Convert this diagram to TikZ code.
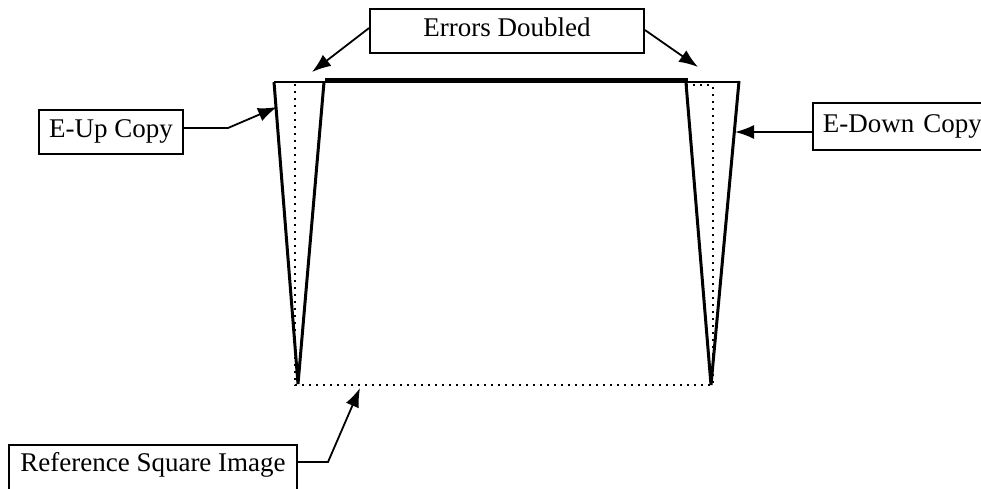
\documentclass[tikz,border=0pt]{standalone}
\usepackage{fontspec}
\setmainfont{Liberation Serif}
\usetikzlibrary{arrows.meta}
\begin{document}
\begin{tikzpicture}[x=1pt,y=-1pt,
  label box/.style={draw, line width=1.8pt, fill=white, inner sep=0pt,
    font=\fontsize{27}{31}\selectfont, text height=17pt, text depth=5pt},
  pointer/.style={line width=1.8pt, -{Latex[length=19pt,width=14pt]}},
  edge/.style={line width=3pt, line join=miter},
  refline/.style={line width=2pt, dash pattern=on 2pt off 5pt}]
\useasboundingbox (0,0) rectangle (981,489);
\clip (0,0) rectangle (981,489);
\fill[white] (0,0) rectangle (981,489);

% reference square (dotted)
\draw[refline] (295,84) -- (295,385) -- (713,385) -- (713,85);
\draw[refline] (686,85) -- (713,85);

% top edge, doubled part
\draw[line width=2.5pt] (274,82) -- (739,82);
\draw[line width=2.5pt] (325,79.5) -- (688,79.5);

% E-Up copy wedge
\draw[edge] (274,82) -- (298,384) -- (324,82);
% E-Down copy wedge
\draw[edge] (739,81) -- (711,385) -- (686,83);

% tips of the pointers
\coordinate (tipL) at (312,72);
\coordinate (tipR) at (698,67);
\coordinate (tipUp) at (277,107);
\coordinate (tipDown) at (735,132);
\coordinate (tipRef) at (360,388);

% labels
\node[label box, minimum width=274pt, minimum height=44pt] (err) at (507,31) {Errors Doubled};
\node[label box, minimum width=144pt, minimum height=44pt] (up) at (111,132) {E-Up Copy};
\node[label box, minimum width=180pt, minimum height=47pt, anchor=west, text width=160pt, align=left] (down) at (812,126.5) {E-Down Copy};
\node[label box, minimum width=288pt, minimum height=47pt, text depth=11pt] (ref) at (153,468.5) {Reference Square Image};

% connectors
\draw[pointer] (err.west |- 0,28) -- (tipL);
\draw[pointer] (err.east |- 0,30) -- (tipR);
\draw[pointer] (up.east |- 0,128) -- (228,128) -- (tipUp);
\draw[pointer] (down.west |- 0,132) -- (tipDown);
\draw[pointer] (ref.east |- 0,462) -- (328,462) -- (tipRef);
\end{tikzpicture}
\end{document}
